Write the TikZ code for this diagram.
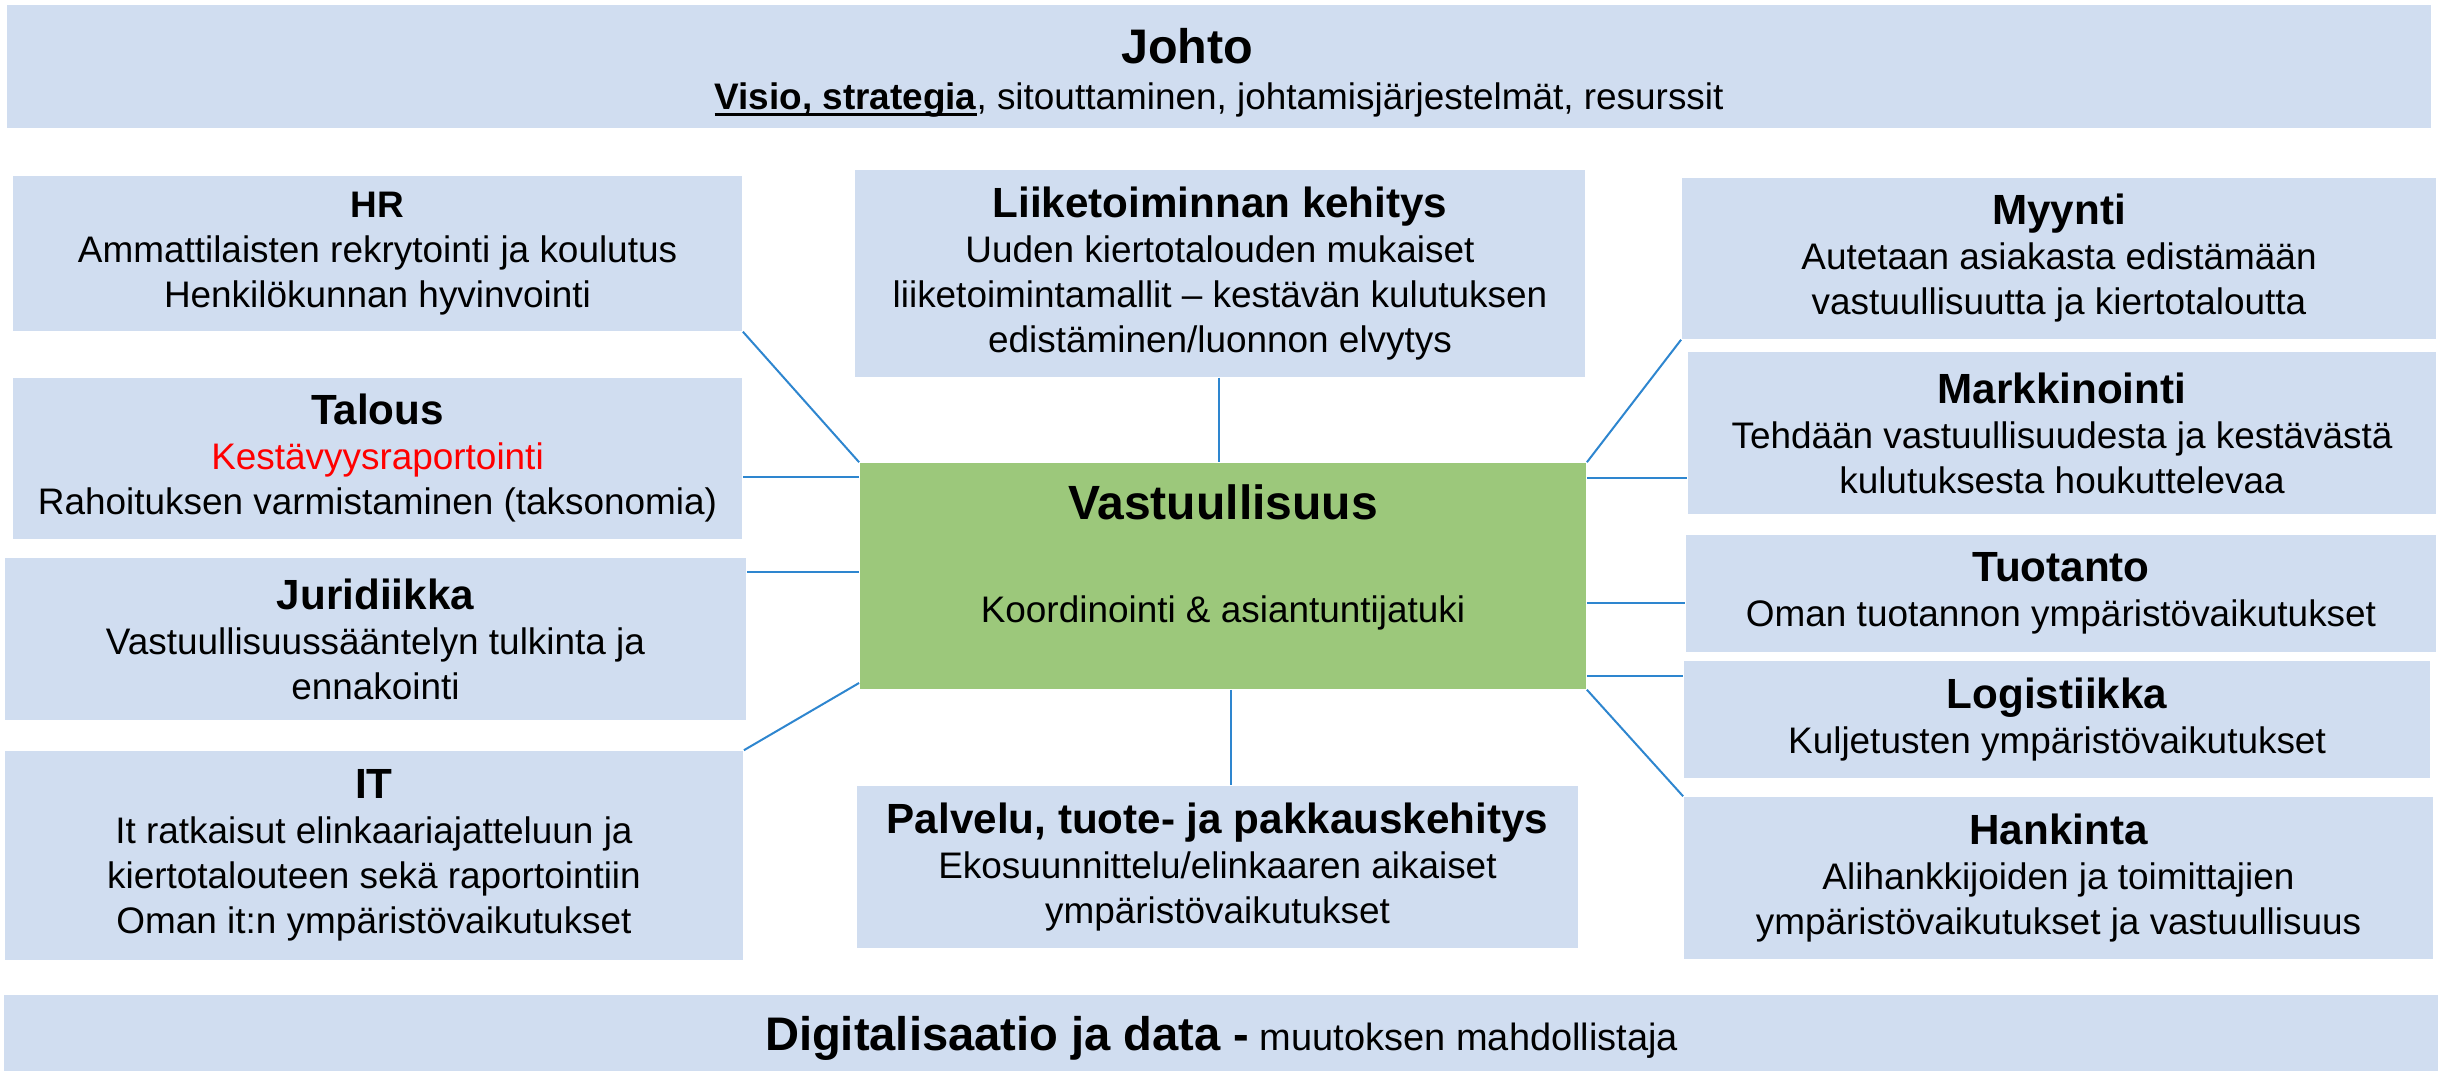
\documentclass[tikz,border=0pt]{standalone}
\usepackage{fontspec}
\setmainfont{Liberation Sans}

\definecolor{boxblue}{HTML}{D0DDF0}
\definecolor{coregreen}{HTML}{9CC87B}
\definecolor{linkblue}{HTML}{2E86CF}

\newcommand{\boxtitle}[1]{{\fontsize{12}{12.8}\selectfont\bfseries #1}}
\newcommand{\ulkey}[1]{\setbox0\hbox{#1}\rlap{\rule[-1.9pt]{\wd0}{0.9pt}}\box0}

\begin{document}
\begin{tikzpicture}[x=0.01cm, y=-0.01cm,
		box/.style={fill=boxblue, inner sep=0pt, align=center, font=\fontsize{10.5}{12.8}\selectfont},
		corebox/.style={fill=coregreen, inner sep=0pt},
		link/.style={linkblue, line width=0.57pt}]
		\useasboundingbox (0,0) rectangle (2438,1071);
		
		% top and bottom bands
		\node[box, minimum width=24.22cm, minimum height=1.23cm, font=\fontsize{10.5}{13.1}\selectfont] (johto) at (1219, 66.5)
			{\rule{0pt}{13.5pt}{\fontsize{13.8}{16}\selectfont\bfseries Johto}\kern18pt\\\ulkey{\bfseries Visio, strategia}, sitouttaminen, johtamisjärjestelmät, resurssit};
		\node[box, minimum width=24.33cm, minimum height=0.86cm, font=\fontsize{10.8}{13}\selectfont] (digi) at (1221.5, 1038)
			{{\fontsize{13.4}{16}\selectfont\bfseries Digitalisaatio ja data -} muutoksen mahdollistaja};
		
		% left column
		\node[box, minimum width=7.29cm, minimum height=1.55cm] (hr) at (377.5, 253.5)
			{{\bfseries HR}\\Ammattilaisten rekrytointi ja koulutus\\Henkilökunnan hyvinvointi};
		\node[box, minimum width=7.29cm, minimum height=1.61cm] (talous) at (377.5, 458.5)
			{\boxtitle{Talous}\\\textcolor{red}{Kestävyysraportointi}\\Rahoituksen varmistaminen (taksonomia)};
		\node[box, minimum width=7.41cm, minimum height=1.62cm] (jur) at (375.5, 639)
			{\boxtitle{Juridiikka}\\Vastuullisuussääntelyn tulkinta ja\\ennakointi};
		\node[box, minimum width=7.38cm, minimum height=2.09cm] (it) at (374, 855.5)
			{\boxtitle{IT}\\It ratkaisut elinkaariajatteluun ja\\kiertotalouteen sekä raportointiin\\Oman it:n ympäristövaikutukset};
		
		% middle column
		\node[box, minimum width=7.30cm, minimum height=2.07cm] (liike) at (1220, 273.5)
			{\boxtitle{Liiketoiminnan kehitys}\\Uuden kiertotalouden mukaiset\\liiketoimintamallit – kestävän kulutuksen\\edistäminen/luonnon elvytys};
		\node[corebox, minimum width=7.26cm, minimum height=2.26cm] (core) at (1223, 576) {};
		\node[anchor=base, font=\fontsize{13.66}{16}\selectfont\bfseries] (coretitle) at (1223, 520) {Vastuullisuus};
		\node[anchor=base, font=\fontsize{10.5}{12.8}\selectfont] (coresub) at (1223, 623) {Koordinointi \& asiantuntijatuki};
		\node[box, minimum width=7.21cm, minimum height=1.62cm] (palvelu) at (1217.5, 867)
			{\boxtitle{Palvelu, tuote- ja pakkauskehitys}\\Ekosuunnittelu/elinkaaren aikaiset\\ympäristövaikutukset};
		
		% right column
		\node[box, minimum width=7.54cm, minimum height=1.61cm] (myynti) at (2059, 258.5)
			{\boxtitle{Myynti}\\Autetaan asiakasta edistämään\\vastuullisuutta ja kiertotaloutta};
		\node[box, minimum width=7.48cm, minimum height=1.62cm] (markk) at (2062, 433)
			{\boxtitle{Markkinointi}\\Tehdään vastuullisuudesta ja kestävästä\\kulutuksesta houkuttelevaa};
		\node[box, minimum width=7.50cm, minimum height=1.17cm] (tuot) at (2061, 593.5)
			{\boxtitle{Tuotanto}\\Oman tuotannon ympäristövaikutukset};
		\node[box, minimum width=7.46cm, minimum height=1.17cm] (logi) at (2057, 719.5)
			{\boxtitle{Logistiikka}\\Kuljetusten ympäristövaikutukset};
		\node[box, minimum width=7.49cm, minimum height=1.62cm] (hank) at (2058.5, 878)
			{\boxtitle{Hankinta}\\Alihankkijoiden ja toimittajien\\ympäristövaikutukset ja vastuullisuus};
		
		% connectors to the core
		\path [link] (hr.south east) edge (core.north west);
		\path [link] (talous.east |- 0,477) edge (core.west |- 0,477);
		\path [link] (jur.east |- 0,572) edge (core.west |- 0,572);
		\path [link] (it.north east) edge (core.west |- 0,683);
		
		\path [link] (liike.south -| 1219,0) edge (core.north -| 1219,0);
		\path [link] (core.south -| 1231,0) edge (palvelu.north -| 1231,0);
		
		\path [link] (myynti.south west) edge (core.north east);
		\path [link] (core.east |- 0,478) edge (markk.west |- 0,478);
		\path [link] (core.east |- 0,603) edge (tuot.west |- 0,603);
		\path [link] (core.east |- 0,676) edge (logi.west |- 0,676);
		\path [link] (core.south east) edge (hank.north west);
		
\end{tikzpicture}
\end{document}
